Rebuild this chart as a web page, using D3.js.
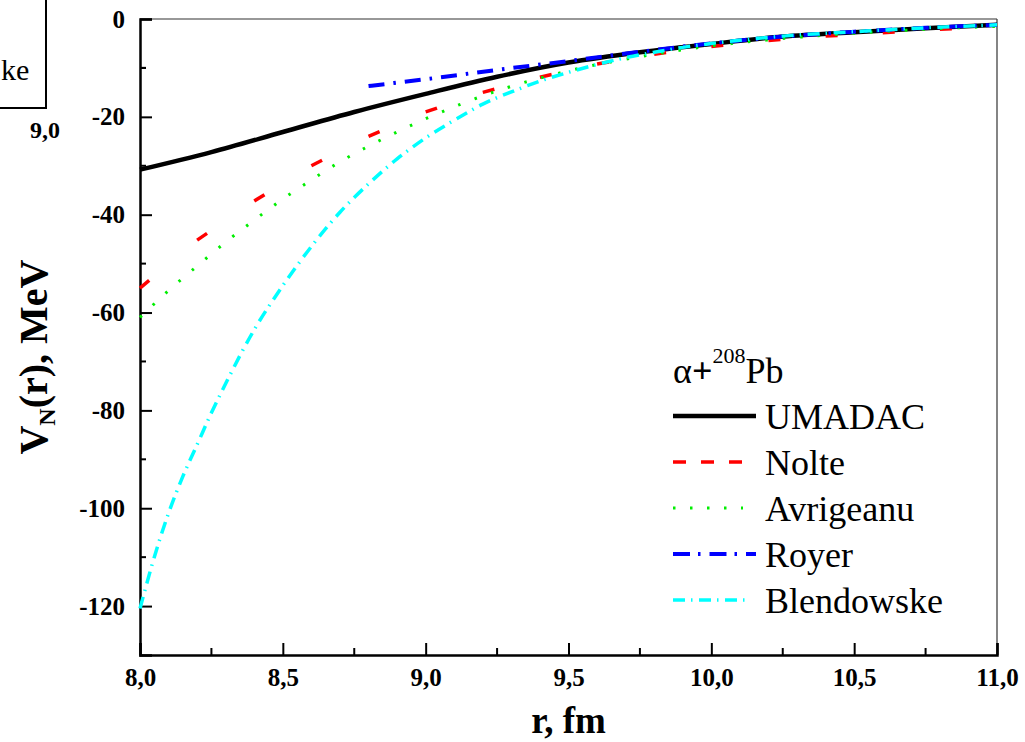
<!DOCTYPE html>
<html>
<head>
<meta charset="utf-8">
<script src="https://cdn.jsdelivr.net/npm/d3@7"></script>
<style>
  body { margin: 0; background: #fff; }
  svg text { font-family: "Liberation Serif", "DejaVu Serif", serif; }
</style>
</head>
<body>
<div id="chart"></div>
<script>
// Nuclear potential curves, alpha + 208Pb
var rUmadac = [8.0, 8.25, 8.5, 8.75, 9.0, 9.25, 9.5, 9.75, 10.0, 10.25, 10.5, 10.75, 11.0];
var vUmadac = [-30.8, -27.2, -23.1, -19.0, -15.3, -11.8, -8.9, -6.8, -5.1, -3.6, -2.7, -1.9, -1.2];

var rNolte = [8.0, 8.2, 8.4, 8.6, 8.8, 9.0, 9.2, 9.4, 9.6, 9.8, 10.0, 10.2, 10.4, 10.6, 10.8, 11.0];
var vNolte = [-55, -45.2, -37.2, -30.0, -24.0, -19.0, -15.0, -11.9, -9.2, -7.2, -5.6, -4.4, -3.5, -2.8, -2.1, -1.6];

var rAvrig = [8.0, 8.1, 8.2, 8.3, 8.4, 8.5, 8.6, 8.7, 8.8, 8.9, 9.0, 9.25, 9.5, 9.75, 10.0, 10.25, 10.5, 10.75, 11.0];
var vAvrig = [-61, -55.5, -50.5, -45.6, -41.1, -36.8, -32.9, -29.2, -26.0, -23.1, -20.4, -14.7, -10.6, -7.7, -5.5, -4.0, -2.9, -2.1, -1.5];

var rRoyer = [8.8, 9.0, 9.25, 9.5, 9.75, 10.0, 10.25, 10.5, 10.75, 11.0];
var vRoyer = [-13.7, -12.3, -10.4, -8.6, -6.7, -5.0, -3.6, -2.6, -1.8, -1.2];

var rBlend = [8.0, 8.05, 8.1, 8.15, 8.2, 8.25, 8.3, 8.4, 8.5, 8.6, 8.7, 8.8, 8.9, 9.0, 9.1, 9.2, 9.3, 9.4, 9.5, 9.6, 9.7, 9.8, 9.9, 10.0, 10.25, 10.5, 10.75, 11.0];
var vBlend = [-120.5, -110, -101, -93.5, -87, -80.5, -74.5, -63.5, -54.5, -46.5, -39.5, -33.7, -28.6, -24.3, -20.7, -17.4, -14.9, -12.7, -10.9, -9.3, -7.9, -6.8, -5.8, -5.0, -3.5, -2.6, -1.8, -1.2];

var xTicks = [8.0, 8.5, 9.0, 9.5, 10.0, 10.5, 11.0];
var yTicks = [0, -20, -40, -60, -80, -100, -120];

var series = [
  { name: "UMADAC", r: rUmadac, v: vUmadac, color: "#000000", width: 4.5, dash: null, legDash: null },
  { name: "Nolte", r: rNolte, v: vNolte, color: "#ff0000", width: 3.5, dash: "12,3000", legDash: "13,15", perSegment: true },
  { name: "Avrigeanu", r: rAvrig, v: vAvrig, color: "#00ee00", width: 3, dash: "2.5,15", legDash: "2.5,14.5" },
  { name: "Royer", r: rRoyer, v: vRoyer, color: "#0000ff", width: 4, dash: "16,9,2.5,9", legDash: "17,8,2.5,9" },
  { name: "Blendowske", r: rBlend, v: vBlend, color: "#00ffff", width: 3.5, dash: "12,6,1.5,6.5", legDash: "12,6,1.5,6.5" }
];

var FONT = "'Liberation Serif', 'DejaVu Serif', serif";
var W = 1025, H = 742;
var margin = { left: 140, right: 28, top: 19, bottom: 87 };
var width = W - margin.left - margin.right;
var height = H - margin.top - margin.bottom;

var svg = d3.select("#chart").append("svg")
  .attr("width", W)
  .attr("height", H)
  .attr("font-family", FONT);

// remnant of the neighbouring panel at the left edge
svg.append("path")
  .attr("d", "M46,0 V108 H-2")
  .attr("fill", "none")
  .attr("stroke", "#000")
  .attr("stroke-width", 2);
svg.append("text")
  .attr("x", 1).attr("y", 80)
  .attr("font-size", "30px")
  .text("ke");
svg.append("text")
  .attr("x", 45).attr("y", 138)
  .attr("text-anchor", "middle")
  .attr("font-size", "24px")
  .attr("font-weight", "bold")
  .text("9,0");

var g = svg.append("g")
  .attr("transform", "translate(" + margin.left + "," + margin.top + ")");

var x = d3.scaleLinear().domain([8, 11]).range([0, width]);
var y = d3.scaleLinear().domain([-130, 0]).range([height, 0]);

// frame: thin top and right
g.append("line").attr("x1", 0).attr("x2", width).attr("y1", 0).attr("y2", 0)
  .attr("stroke", "#333").attr("stroke-width", 1.2);
g.append("line").attr("x1", width).attr("x2", width).attr("y1", 0).attr("y2", height)
  .attr("stroke", "#333").attr("stroke-width", 1.2);

var fmtX = function(d) { return d3.format(".1f")(d).replace(".", ","); };
var fmtY = function(d) { return String(d); };  // plain hyphen minus

// x axis, ticks pointing inward
var xAxis = d3.axisBottom(x).tickValues(xTicks).tickSize(-12).tickPadding(13).tickFormat(fmtX);
var xg = g.append("g").attr("transform", "translate(0," + height + ")").call(xAxis);
xg.attr("font-family", FONT);
xg.select(".domain").attr("stroke-width", 2.5);
xg.selectAll(".tick line").attr("stroke-width", 2);
xg.selectAll(".tick text")
  .attr("font-size", "25px").attr("font-weight", "bold").attr("fill", "#000");
var xMinor = d3.range(8.25, 11, 0.5);
xg.selectAll(".minor").data(xMinor).enter().append("line")
  .attr("x1", function(d) { return x(d); }).attr("x2", function(d) { return x(d); })
  .attr("y1", 0).attr("y2", -7)
  .attr("stroke", "#000").attr("stroke-width", 2);

// y axis
var yAxis = d3.axisLeft(y).tickValues(yTicks).tickSize(-12).tickPadding(15).tickFormat(fmtY);
var yg = g.append("g").call(yAxis);
yg.attr("font-family", FONT);
yg.select(".domain").attr("stroke-width", 2.5);
yg.selectAll(".tick line").attr("stroke-width", 2);
yg.selectAll(".tick text")
  .attr("font-size", "25px").attr("font-weight", "bold").attr("fill", "#000");
var yMinor = d3.range(-110, 0, 20).concat([-10]);
yg.selectAll(".minor").data(yMinor).enter().append("line")
  .attr("x1", 0).attr("x2", 6)
  .attr("y1", function(d) { return y(d); }).attr("y2", function(d) { return y(d); })
  .attr("stroke", "#000").attr("stroke-width", 2);

// curves
var line = d3.line()
  .x(function(d) { return x(d[0]); })
  .y(function(d) { return y(d[1]); })
  .curve(d3.curveMonotoneX);

series.forEach(function(s) {
  var pts = s.r.map(function(r, i) { return [r, s.v[i]]; });
  if (s.perSegment) {
    // dash pattern restarts at every data point
    for (var i = 0; i < pts.length - 1; i++) {
      g.append("path")
        .attr("d", line([pts[i], pts[i + 1]]))
        .attr("fill", "none")
        .attr("stroke", s.color)
        .attr("stroke-width", s.width)
        .attr("stroke-dasharray", s.dash);
    }
  } else {
    g.append("path")
      .attr("d", line(pts))
      .attr("fill", "none")
      .attr("stroke", s.color)
      .attr("stroke-width", s.width)
      .attr("stroke-dasharray", s.dash);
  }
});

// axis titles
svg.append("text")
  .attr("x", margin.left + width / 2).attr("y", 733)
  .attr("text-anchor", "middle")
  .attr("font-size", "37px").attr("font-weight", "bold")
  .text("r, fm");

var yt = svg.append("text")
  .attr("transform", "translate(47,357) rotate(-90)")
  .attr("text-anchor", "middle")
  .attr("font-size", "40px").attr("font-weight", "bold");
yt.append("tspan").text("V");
yt.append("tspan").attr("font-size", "24px").attr("dy", 8).text("N");
yt.append("tspan").attr("dy", -8).text("(r), MeV");

// legend
var legend = svg.append("g");
var title = legend.append("text").attr("x", 673).attr("y", 383).attr("font-size", "36px");
title.append("tspan").text("\u03b1");
title.append("tspan").attr("font-weight", "bold").text("+");
title.append("tspan").attr("font-size", "22px").attr("dy", -20).text("208");
title.append("tspan").attr("dy", 20).text("Pb");

var rowY = [416, 462, 508, 554, 600];
var lineEnd = [756, 743, 743, 756, 750];
series.forEach(function(s, i) {
  legend.append("line")
    .attr("x1", 673).attr("x2", lineEnd[i])
    .attr("y1", rowY[i]).attr("y2", rowY[i])
    .attr("stroke", s.color)
    .attr("stroke-width", s.width)
    .attr("stroke-dasharray", s.legDash);
  legend.append("text")
    .attr("x", 765).attr("y", rowY[i] + 13)
    .attr("font-size", "36px")
    .text(s.name);
});
</script>
</body>
</html>
